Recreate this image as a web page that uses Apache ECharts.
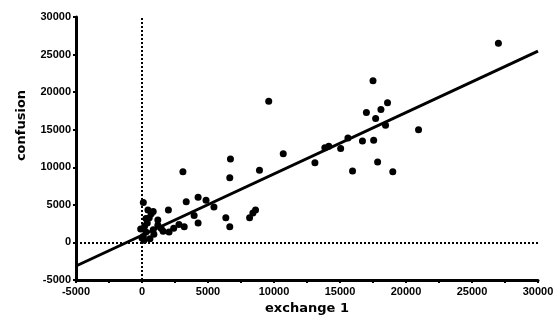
<!DOCTYPE html>
<html>
<head>
<meta charset="utf-8">
<script src="https://cdn.jsdelivr.net/npm/echarts@6/dist/echarts.min.js"></script>
<style>
  html, body { margin: 0; padding: 0; background: #fff; }
  #chart { width: 557px; height: 325px; }
</style>
</head>
<body>
<div id="chart"></div>
<script>
// scatter points (exchange 1, confusion)
const exchangeX = [
  27000, 17500, 18600, 18100, 17700, 18450, 20950, 17550, 17850, 19000,
  17000, 16700, 15950, 9600, 10700, 6700, 6650, 8900, 3100, 13100,
  13850, 15050, 15600, 14150, 3350, 4250, 4850, 5450, 6350, 8400,
  8600, 3950, 4250, 3200, 6650, 8150, 100, 850, 2000, 450,
  550, 1200, 1450, 2050, 850, 300, 150, 0, 100, 200,
  400, 600, 900, 1200, 1600, 2400, 2800, 700, -100, 300
]
const confusionY = [
  26500, 21500, 18600, 17700, 16500, 15600, 15000, 13600, 10700, 9400,
  17300, 13500, 9500, 18800, 11800, 11100, 8600, 9600, 9400, 10600,
  12600, 12500, 13900, 12800, 5400, 6000, 5600, 4700, 3300, 3900,
  4300, 3600, 2600, 2100, 2100, 3300, 5300, 4100, 4300, 4300,
  3300, 3000, 1900, 1400, 1700, 1400, 300, 600, 800, 2200,
  2600, 500, 1100, 2300, 1500, 1900, 2400, 3800, 1800, 3200
]
// fitted line end points
const fitX = [-5000, 30000]
const fitY = [-3135, 25460]

const points = exchangeX.map((x, i) => [x, confusionY[i]])
const fitLine = fitX.map((x, i) => [x, fitY[i]])

const chart = echarts.init(document.getElementById('chart'))
const labelFont = { color: '#000', fontFamily: 'Liberation Sans', fontSize: 11, fontWeight: 'bold' }

chart.setOption({
  animation: false,
  grid: { left: 76, right: 19, top: 17, bottom: 45 },
  xAxis: {
    type: 'value',
    min: -5000,
    max: 30000,
    interval: 2500,
    name: 'exchange 1',
    nameLocation: 'middle',
    nameGap: 22,
    nameTextStyle: { color: '#000', fontFamily: 'DejaVu Sans', fontSize: 13, fontWeight: 'bold' },
    splitLine: { show: false },
    axisLine: { onZero: false, lineStyle: { color: '#000', width: 3 } },
    axisTick: { length: 3, lineStyle: { color: '#000', width: 2 } },
    axisLabel: Object.assign({}, labelFont, {
      margin: 6,
      formatter: v => (v % 5000 === 0 ? String(v) : '')
    })
  },
  yAxis: {
    type: 'value',
    min: -5000,
    max: 30000,
    interval: 5000,
    name: 'confusion',
    nameLocation: 'middle',
    nameGap: 48,
    nameTextStyle: { color: '#000', fontFamily: 'DejaVu Sans', fontSize: 13, fontWeight: 'bold', padding: [0, 0, 0, 46] },
    splitLine: { show: false },
    axisLine: { onZero: false, lineStyle: { color: '#000', width: 3 } },
    axisTick: { length: 3, lineStyle: { color: '#000', width: 2 } },
    axisLabel: Object.assign({}, labelFont, { margin: 5, formatter: v => String(v) })
  },
  series: [
    {
      type: 'scatter',
      data: points,
      symbolSize: 7,
      itemStyle: { color: '#000', opacity: 1 },
      markLine: {
        silent: true,
        symbol: 'none',
        label: { show: false },
        lineStyle: { color: '#000', type: 'dotted', width: 2 },
        data: [{ xAxis: 0 }, { yAxis: 0 }]
      }
    },
    {
      type: 'line',
      data: fitLine,
      showSymbol: false,
      lineStyle: { color: '#000', width: 3 }
    }
  ]
})
</script>
</body>
</html>
